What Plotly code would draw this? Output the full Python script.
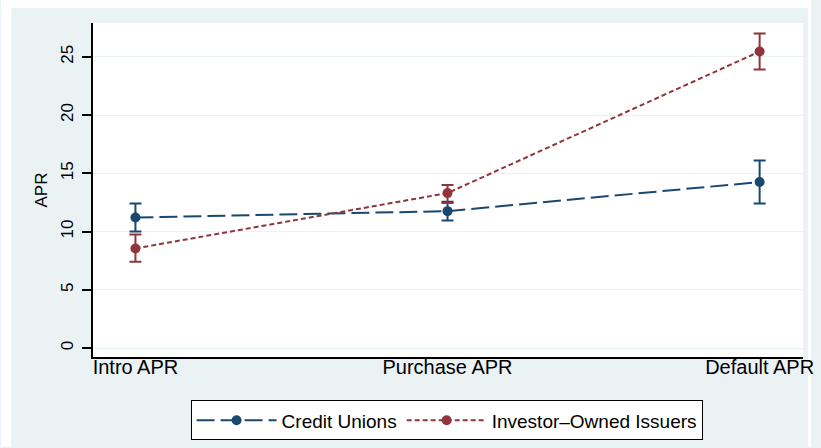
import plotly.graph_objects as go

# APR category averages with confidence bands
categories = ["Intro APR", "Purchase APR", "Default APR"]

cu_mean = [11.2, 11.75, 14.25]
cu_upper = [12.4, 12.55, 16.1]
cu_lower = [10.0, 10.95, 12.4]

io_mean = [8.55, 13.3, 25.45]
io_upper = [9.75, 14.0, 27.0]
io_lower = [7.4, 12.45, 23.9]

y_ticks = [0, 5, 10, 15, 20, 25]

NAVY = "#1A476F"
MAROON = "#90353B"
BG = "#EAF2F3"
FONT = "Liberation Sans, Arial, sans-serif"

x_pos = list(range(len(categories)))


def errs(mean, upper, lower):
    return ([u - m for u, m in zip(upper, mean)],
            [m - l for m, l in zip(mean, lower)])


fig = go.Figure()

for name, mean, up, lo, color, dash in [
    ("Credit Unions", cu_mean, cu_upper, cu_lower, NAVY, "18px,6px"),
    ("Investor\u2013Owned Issuers", io_mean, io_upper, io_lower, MAROON, "5px,3px"),
]:
    plus, minus = errs(mean, up, lo)
    fig.add_trace(go.Scatter(
        x=x_pos, y=mean, name=name, mode="lines+markers",
        line=dict(color=color, width=2, dash=dash),
        marker=dict(color=color, size=10, symbol="circle"),
        error_y=dict(type="data", symmetric=False, array=plus, arrayminus=minus,
                     color=color, thickness=2, width=6),
        cliponaxis=False,
    ))

# white border strips around the graph region
L, R, T, B = 93, 813, 23, 358
W, H = R - L, B - T


def px_x(p):
    return (p - L) / W


def px_y(p):
    return (B - p) / H


for x0, y0, x1, y1 in [(0, 0, 821, 8), (0, 0, 10, 448), (818, 0, 821, 448)]:
    fig.add_shape(type="rect", xref="paper", yref="paper",
                  x0=px_x(x0), x1=px_x(x1), y0=px_y(y1), y1=px_y(y0),
                  fillcolor="white", line_width=0, layer="below")

fig.update_layout(
    width=821, height=448,
    margin=dict(l=L, r=821 - R, t=T, b=448 - B),
    paper_bgcolor=BG, plot_bgcolor="white",
    font=dict(family=FONT, color="black"),
    showlegend=True,
    legend=dict(
        orientation="h", x=0.498, xanchor="center", y=-0.13, yanchor="top",
        bgcolor="white", bordercolor="black", borderwidth=1,
        font=dict(size=19, family=FONT), itemwidth=80,
    ),
    xaxis=dict(
        range=[-0.136, 2.139], tickvals=x_pos, ticktext=categories,
        showgrid=False, zeroline=False, showline=True, linecolor="black",
        linewidth=2, ticks="", tickfont=dict(size=20, family=FONT),
        ticklabelstandoff=-9, ticklabeloverflow="allow",
    ),
    yaxis=dict(
        range=[-0.77, 27.9], tickvals=y_ticks, tickangle=-90,
        showgrid=True, gridcolor=BG, gridwidth=1, zeroline=False,
        showline=True, linecolor="black", linewidth=2,
        ticks="outside", ticklen=9, tickwidth=2, tickcolor="black",
        tickfont=dict(size=17, family=FONT), ticklabelstandoff=2,
        title=dict(text="APR", font=dict(size=17, family=FONT), standoff=6),
    ),
)

fig.write_html("out.html")
